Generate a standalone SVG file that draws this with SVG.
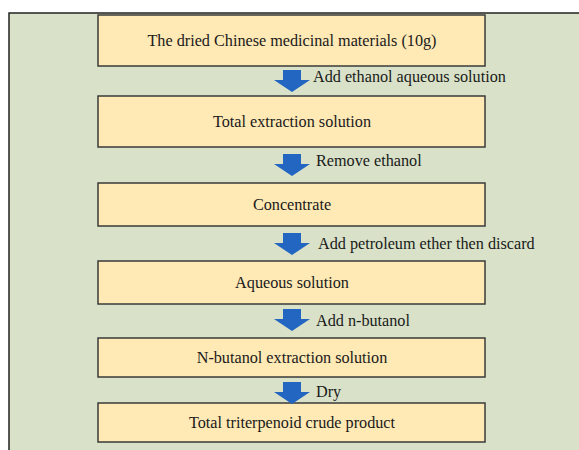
<svg xmlns="http://www.w3.org/2000/svg" width="579" height="450" viewBox="0 0 579 450">
<defs>
<style>
.box{fill:#ffe9b5;stroke:#3a3a3a;stroke-width:1.5}
.bt{font-family:'Liberation Serif','Times New Roman',serif;font-size:16.2px;fill:#1a1a1a;text-anchor:middle}
.lt{font-family:'Liberation Serif','Times New Roman',serif;font-size:16.2px;fill:#1a1a1a}
.arr{fill:#2366c2}
</style>
<path id="ar" class="arr" d="M-9,0 H9 V10 H18 L0,22 L-18,10 H-9 Z"/>
</defs>
<rect x="0" y="0" width="579" height="450" fill="#ffffff"/>
<rect x="9" y="13" width="580" height="450" fill="#d9e2c8" stroke="#222" stroke-width="1.5"/>
<g id="n1"><rect class="box" x="98" y="15" width="387" height="51"/><text class="bt" x="292" y="46">The dried Chinese medicinal materials (10g)</text></g>
<g id="n2"><rect class="box" x="98" y="96" width="387" height="51"/><text class="bt" x="292" y="127">Total extraction solution</text></g>
<g id="n3"><rect class="box" x="98" y="183" width="387" height="43"/><text class="bt" x="292" y="210">Concentrate</text></g>
<g id="n4"><rect class="box" x="98" y="261" width="387" height="43"/><text class="bt" x="292" y="288">Aqueous solution</text></g>
<g id="n5"><rect class="box" x="98" y="338" width="387" height="39"/><text class="bt" x="292" y="363">N-butanol extraction solution</text></g>
<g id="n6"><rect class="box" x="98" y="403" width="387" height="39"/><text class="bt" x="292" y="428">Total triterpenoid crude product</text></g>
<g id="connectors">
<use href="#ar" x="292" y="70"/><text class="lt" x="313" y="82">Add ethanol aqueous solution</text>
<use href="#ar" x="292" y="154"/><text class="lt" x="316" y="166">Remove ethanol</text>
<use href="#ar" x="292" y="233"/><text class="lt" x="318" y="249">Add petroleum ether then discard</text>
<use href="#ar" x="292" y="309"/><text class="lt" x="316" y="326">Add n-butanol</text>
<use href="#ar" x="292" y="382"/><text class="lt" x="316" y="397">Dry</text>
</g>
</svg>
